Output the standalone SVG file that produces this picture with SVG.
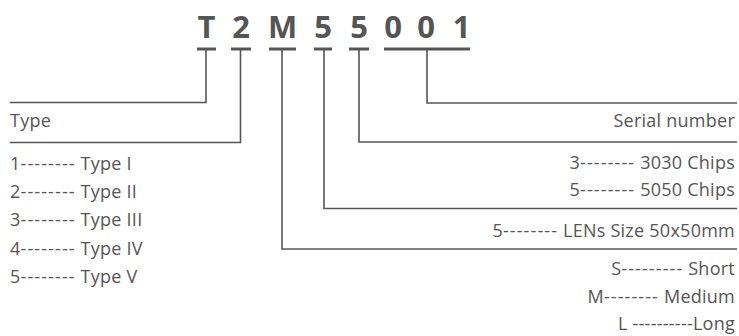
<svg xmlns="http://www.w3.org/2000/svg" width="739" height="336" viewBox="0 0 739 336">
<style>
.code{font-family:"Open Sans","Noto Sans",sans-serif;font-weight:bold;font-size:31px;fill:#555555;text-anchor:middle}
.t{font-family:"Open Sans","Noto Sans",sans-serif;font-size:18px;fill:#555555;letter-spacing:0.25px}
.d{letter-spacing:1.1px}
.r{text-anchor:end}
.ul{stroke:#555555;stroke-width:3;fill:none}
.c{stroke:#555555;stroke-width:1.6;fill:none}
</style>
<rect width="739" height="336" fill="#ffffff"/>
<g id="code">
<text class="code" x="206.5" y="38">T</text>
<text class="code" x="241" y="38">2</text>
<text class="code" x="282.5" y="38">M</text>
<text class="code" x="323" y="38">5</text>
<text class="code" x="359" y="38">5</text>
<text class="code" x="393" y="38">0</text>
<text class="code" x="426" y="38">0</text>
<text class="code" x="461.5" y="38">1</text>
<line class="ul" x1="197" y1="49" x2="216" y2="49"/>
<line class="ul" x1="231" y1="49" x2="251" y2="49"/>
<line class="ul" x1="269" y1="49" x2="296" y2="49"/>
<line class="ul" x1="314" y1="49" x2="332" y2="49"/>
<line class="ul" x1="349" y1="49" x2="369" y2="49"/>
<line class="ul" x1="384" y1="49" x2="470" y2="49"/>
</g>
<g id="connectors">
<polyline class="c" points="206,50 206,102.5 10,102.5"/>
<polyline class="c" points="240.5,50 240.5,142.5 10,142.5"/>
<polyline class="c" points="282,50 282,249 737,249"/>
<polyline class="c" points="324,50 324,208.5 737,208.5"/>
<polyline class="c" points="359,50 359,142 737,142"/>
<polyline class="c" points="427,50 427,103 737,103"/>
</g>
<g id="type">
<text class="t" x="10" y="127">Type</text>
<text class="t" x="10" y="169.5">1<tspan class="d">--------</tspan> Type I</text>
<text class="t" x="10" y="197.5">2<tspan class="d">--------</tspan> Type II</text>
<text class="t" x="10" y="226">3<tspan class="d">--------</tspan> Type III</text>
<text class="t" x="10" y="254.5">4<tspan class="d">--------</tspan> Type IV</text>
<text class="t" x="10" y="283">5<tspan class="d">--------</tspan> Type V</text>
</g>
<g id="serial">
<text class="t r" x="735" y="126.5">Serial number</text>
</g>
<g id="chips">
<text class="t r" x="735" y="168.5">3<tspan class="d">--------</tspan> 3030 Chips</text>
<text class="t r" x="735" y="196">5<tspan class="d">--------</tspan> 5050 Chips</text>
</g>
<g id="lens">
<text class="t r" x="735" y="236.5">5<tspan class="d">--------</tspan> LENs Size 50x50mm</text>
</g>
<g id="length">
<text class="t r" x="735" y="275">S<tspan class="d">---------</tspan> Short</text>
<text class="t r" x="735" y="303">M<tspan class="d">--------</tspan> Medium</text>
<text class="t r" x="735" y="330">L ----------Long</text>
</g>
</svg>
